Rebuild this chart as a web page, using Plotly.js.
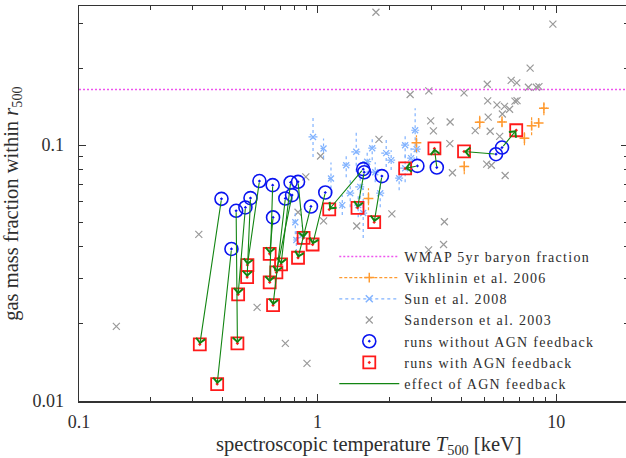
<!DOCTYPE html>
<html><head><meta charset="utf-8">
<script src="https://cdn.plot.ly/plotly-3.0.1.min.js"></script>
<style>html,body{margin:0;padding:0;overflow:hidden;background:#fff}#chart{width:630px;height:458px}
.legendtext{letter-spacing:1.3px}</style>
</head><body><div id="chart"></div>
<script>
// ---- data ----
const wmapFb = 0.165;
const tRange = [0.1, 20];
const fRange = [0.01, 0.35];

// Vikhlinin et al. 2006
const vikT   = [1.634, 2.596, 4.119, 4.781, 5.928, 7.362, 7.889, 8.443, 8.882];
const vikTlo = [1.595, 2.522, 4.00, 4.645, 5.76, 7.15, 7.66, 8.24, 8.63];
const vikThi = [1.674, 2.672, 4.24, 4.921, 6.10, 7.58, 8.12, 8.65, 9.14];
const vikF   = [0.0619, 0.1023, 0.0826, 0.1230, 0.1233, 0.1065, 0.1192, 0.1222, 0.1395];
const vikFlo = [0.0557, 0.0939, 0.0770, 0.1160, 0.1176, 0.1000, 0.1094, 0.1176, 0.1310];
const vikFhi = [0.0679, 0.1094, 0.0874, 0.1310, 0.1298, 0.1134, 0.1310, 0.1287, 0.1499];

// Sun et al. 2008
const sunT   = [0.957, 1.059, 1.138, 1.452, 1.614, 1.939, 2.328, 2.564, 2.601, 0.8065, 0.8144, 1.370, 1.509, 1.830, 1.318, 1.744, 2.328, 2.466, 2.197, 1.480, 1.269, 2.034, 1.694, 0.863, 1.553];
const sunTlo = [0.916, 1.029, 1.106, 1.384, 1.538, 1.848, 2.240, 2.467, 2.479, 0.7835, 0.791, 1.318, 1.438, 1.761, 1.268, 1.678, 2.218, 2.373, 2.114, 1.424, 1.233, 1.957, 1.630, 0.838, 1.494];
const sunThi = [0.999, 1.090, 1.171, 1.524, 1.694, 2.035, 2.419, 2.665, 2.729, 0.830, 0.838, 1.424, 1.584, 1.902, 1.370, 1.813, 2.443, 2.563, 2.283, 1.538, 1.306, 2.114, 1.761, 0.888, 1.614];
const sunF   = [0.1077, 0.0971, 0.0741, 0.0942, 0.0862, 0.0931, 0.1000, 0.1144, 0.0965, 0.0500, 0.0426, 0.0649, 0.0687, 0.0649, 0.0835, 0.0784, 0.0813, 0.0890, 0.0743, 0.0583, 0.0583, 0.0874, 0.0973, 0.0445, 0.0543];
const sunFlo = [0.090, 0.0888, 0.0642, 0.0787, 0.0774, 0.0821, 0.0898, 0.0939, 0.0882, 0.0449, 0.0382, 0.0572, 0.0617, 0.0572, 0.075, 0.0717, 0.0717, 0.0813, 0.0667, 0.0523, 0.0533, 0.0799, 0.0873, 0.0407, 0.0434];
const sunFhi = [0.129, 0.1062, 0.0856, 0.1128, 0.0960, 0.1056, 0.1114, 0.1395, 0.1056, 0.0557, 0.0474, 0.0736, 0.0765, 0.0736, 0.093, 0.0858, 0.0922, 0.0974, 0.0828, 0.0649, 0.0638, 0.0956, 0.1084, 0.0487, 0.0680];

// Sanderson et al. 2003
const sandT = [0.1434, 0.3178, 0.5578, 0.7325, 0.9029, 0.8926, 0.828, 1.0595, 1.459, 2.048, 2.920, 3.373, 3.400, 1.029, 1.808, 1.756, 9.687, 7.778, 6.477, 6.836, 5.143, 7.650, 8.256, 8.467, 2.443, 2.925, 4.11, 5.164, 5.648, 6.071, 6.378, 6.718, 6.855, 5.189, 5.950, 2.979, 3.594, 3.058, 4.578, 5.290, 5.797, 3.584, 5.114, 5.352, 3.675, 6.112];
const sandF = [0.01957, 0.04479, 0.02323, 0.0168, 0.01404, 0.0752, 0.0547, 0.0506, 0.0483, 0.0539, 0.039, 0.0409, 0.0502, 0.0907, 0.1054, 0.3308, 0.2974, 0.2002, 0.1791, 0.1751, 0.1731, 0.1685, 0.1685, 0.1693, 0.1578, 0.163, 0.1602, 0.1489, 0.1437, 0.1418, 0.1382, 0.1487, 0.1494, 0.1287, 0.1324, 0.1244, 0.1232, 0.1138, 0.114, 0.1134, 0.1082, 0.1014, 0.0843, 0.0835, 0.078, 0.0761];

// simulations: runs without / with AGN feedback (paired)
const noAgnT = [0.3955, 0.4355, 0.4556, 0.4983, 0.5232, 0.5704, 0.6483, 0.6507, 0.7325, 0.7815, 0.7707, 0.828, 0.938, 1.077, 1.553, 1.568, 1.860, 2.620, 3.160, 5.594, 5.93];
const noAgnF = [0.0617, 0.0393, 0.0554, 0.0571, 0.0621, 0.0724, 0.0698, 0.0522, 0.0619, 0.0638, 0.0715, 0.0719, 0.0576, 0.0653, 0.0806, 0.0784, 0.0757, 0.0830, 0.0818, 0.0922, 0.0979];
const agnT   = [0.3209, 0.3794, 0.4613, 0.4645, 0.5066, 0.5080, 0.6298, 0.6298, 0.6507, 0.6718, 0.7029, 0.8738, 0.828, 0.953, 1.119, 1.470, 1.727, 2.328, 3.088, 4.11, 6.80];
const agnF   = [0.01665, 0.01165, 0.0168, 0.0261, 0.0305, 0.034, 0.0291, 0.0376, 0.0237, 0.0318, 0.0342, 0.0434, 0.0363, 0.0409, 0.0561, 0.0569, 0.0500, 0.0811, 0.0971, 0.0945, 0.1144];

const xMajor = [0.1, 1, 10];
const xMajorText = ['0.1', '1', '10'];
const yMajor = [0.01, 0.1];
const yMajorText = ['0.01', '0.1'];

// ---- build ----
const FONT = 'Liberation Serif, Times New Roman, serif';
const TXT = '#2e2e2e';
const C_SUN = '#80b2ff', C_VIK = '#ff9a30', C_SAND = '#9a9a9a';
const C_BLUE = '#0a14f0', C_RED = '#ff1a1a', C_GREEN = '#128512', C_WMAP = '#ee55ee';

function segs(x, y, xlo, xhi, ylo, yhi) {
  const xs = [], ys = [];
  for (let i = 0; i < x.length; i++) {
    xs.push(xlo[i], xhi[i], null, x[i], x[i], null);
    ys.push(y[i], y[i], null, ylo[i], yhi[i], null);
  }
  return {xs, ys};
}
function minorVals(lo, hi) {
  const v = [];
  for (let d = Math.floor(Math.log10(lo)); d <= Math.ceil(Math.log10(hi)); d++) {
    for (let m = 2; m <= 9; m++) { const t = m * Math.pow(10, d); if (t > lo && t <= hi * 1.0001) v.push(t); }
  }
  return v;
}

const sunE = segs(sunT, sunF, sunTlo, sunThi, sunFlo, sunFhi);
const vikE = segs(vikT, vikF, vikTlo, vikThi, vikFlo, vikFhi);

const traces = [
  {x: sandT, y: sandF, mode: 'markers', type: 'scatter', name: 'Sanderson et al. 2003', legendrank: 4,
   marker: {symbol: 'x-thin-open', size: 7, line: {color: C_SAND, width: 1.2}, color: C_SAND}},
  {x: sunE.xs, y: sunE.ys, mode: 'lines', type: 'scatter', showlegend: false, hoverinfo: 'skip',
   line: {color: C_SUN, width: 1.2, dash: 'dot'}},
  {x: sunT, y: sunF, mode: 'markers', type: 'scatter', showlegend: false,
   marker: {symbol: 'x-thin-open', size: 6, line: {color: C_SUN, width: 1.3}, color: C_SUN}},
  {x: vikE.xs, y: vikE.ys, mode: 'lines', type: 'scatter', showlegend: false, hoverinfo: 'skip',
   line: {color: C_VIK, width: 1.2, dash: '3px,2px'}},
  {x: vikT, y: vikF, mode: 'markers', type: 'scatter', showlegend: false,
   marker: {symbol: 'cross-thin-open', size: 7, line: {color: C_VIK, width: 1.5}, color: C_VIK}},
  {x: tRange, y: [wmapFb, wmapFb], mode: 'lines', type: 'scatter', name: 'WMAP 5yr baryon fraction', legendrank: 1,
   line: {color: C_WMAP, width: 1.5, dash: '2px,2px'}},
  {x: noAgnT, y: noAgnF, mode: 'markers', type: 'scatter', name: 'runs without AGN feedback', legendrank: 5,
   marker: {symbol: 'circle-open-dot', size: 13, color: C_BLUE, line: {color: C_BLUE, width: 1.6}}},
  {x: agnT, y: agnF, mode: 'markers', type: 'scatter', name: 'runs with AGN feedback', legendrank: 6,
   marker: {symbol: 'square-open-dot', size: 12, color: C_RED, line: {color: C_RED, width: 1.8}}},
  // legend-only samples
  {x: [null], y: [null], mode: 'lines+markers', type: 'scatter', name: 'Vikhlinin et al. 2006', legendrank: 2,
   line: {color: C_VIK, width: 1.2, dash: '3px,2px'}, marker: {symbol: 'cross-thin-open', size: 7, line: {color: C_VIK, width: 1.5}}},
  {x: [null], y: [null], mode: 'lines+markers', type: 'scatter', name: 'Sun et al. 2008', legendrank: 3,
   line: {color: C_SUN, width: 1.2, dash: 'dot'}, marker: {symbol: 'x-thin-open', size: 7, line: {color: C_SUN, width: 1.5}}},
  {x: [null], y: [null], mode: 'lines', type: 'scatter', name: 'effect of AGN feedback', legendrank: 7,
   line: {color: C_GREEN, width: 1.2}}
];

const annotations = noAgnT.map((t, i) => ({
  x: Math.log10(agnT[i]), y: Math.log10(agnF[i]),
  ax: Math.log10(t), ay: Math.log10(noAgnF[i]),
  xref: 'x', yref: 'y', axref: 'x', ayref: 'y',
  text: '', showarrow: true, arrowhead: 4, arrowsize: 1.6, arrowwidth: 1.1, arrowcolor: C_GREEN
}));

const axisCommon = {
  type: 'log', showgrid: false, zeroline: false, showline: true, linecolor: '#333', linewidth: 1.5,
  mirror: 'ticks', ticks: 'inside', ticklen: 7, tickwidth: 1, tickcolor: '#333',
  tickfont: {family: FONT, size: 18, color: TXT}, tickmode: 'array'
};

const pad = '&nbsp;&nbsp;&nbsp;&nbsp;&nbsp;&nbsp;';
const layout = {
  width: 630, height: 458,
  margin: {l: 79, r: 1.5, t: 6, b: 57.3},
  paper_bgcolor: '#fff', plot_bgcolor: '#fff',
  font: {family: FONT, color: TXT},
  showlegend: true,
  legend: {x: 0.465, y: 0.003, xanchor: 'left', yanchor: 'bottom', bgcolor: 'rgba(0,0,0,0)',
           font: {family: FONT, size: 14, color: TXT}, itemwidth: 60, traceorder: 'normal'},
  xaxis: Object.assign({}, axisCommon, {
    range: [Math.log10(tRange[0]), Math.log10(tRange[1])],
    tickvals: xMajor, ticktext: xMajorText, ticklabelstandoff: 4,
    minor: {tickmode: 'array', tickvals: minorVals(tRange[0], tRange[1]), ticks: 'inside', ticklen: 4, tickcolor: '#333', showgrid: false},
    title: {text: pad + 'spectroscopic temperature <i>T</i><sub>500</sub> [keV]', font: {family: FONT, size: 20.5, color: TXT}, standoff: 8}
  }),
  yaxis: Object.assign({}, axisCommon, {
    range: [Math.log10(fRange[0]), Math.log10(fRange[1])],
    tickvals: yMajor, ticktext: yMajorText, ticklabelstandoff: 10,
    minor: {tickmode: 'array', tickvals: minorVals(fRange[0], fRange[1]), ticks: 'inside', ticklen: 4, tickcolor: '#333', showgrid: false},
    title: {text: 'gas mass fraction within <i>r</i><sub>500</sub>', font: {family: FONT, size: 20.5, color: TXT}, standoff: 14}
  }),
  annotations: annotations
};

Plotly.newPlot('chart', traces, layout, {displayModeBar: false, staticPlot: true});
</script></body></html>
